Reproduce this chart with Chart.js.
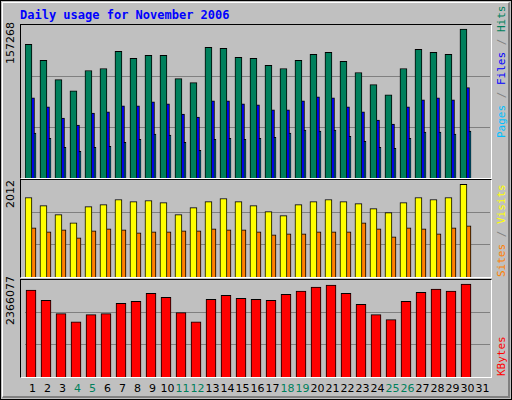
<!DOCTYPE html><html><head><meta charset="utf-8">
<script src="https://cdn.jsdelivr.net/npm/chart.js"></script>
<style>
body{margin:0;width:512px;height:400px;overflow:hidden;background:#fff}
#outer{position:absolute;left:0;top:0;width:510px;height:398px;background:#C0C0C0;border:1px solid #000}
#inner{position:absolute;left:1px;top:1px;width:505px;height:393px;border-top:1px solid #fff;border-left:1px solid #fff;border-right:2px solid #808080;border-bottom:2px solid #808080}
.panel{position:absolute;left:20px;width:470px;border-top:1px solid #000;border-left:1px solid #000;border-right:1px solid #fff;border-bottom:1px solid #fff}
canvas{position:absolute}
.t{position:absolute;font-family:"DejaVu Sans Mono",monospace;font-size:12px;white-space:nowrap}
.rot{transform-origin:0 0;transform:rotate(-90deg)}
.d{position:absolute;top:382px;width:16px;text-align:center;font-family:"DejaVu Sans",sans-serif;font-size:11px}
</style></head><body>
<div id="outer"><div id="inner"></div></div>
<div class="t" style="left:20px;top:8px;color:#0000FF;font-weight:bold">Daily usage for November 2006</div>
<div class="panel" style="top:24px;height:153px"><canvas id="c1" width="465" height="153" style="left:4px;top:0"></canvas></div>
<div class="panel" style="top:179px;height:97px"><canvas id="c2" width="465" height="97" style="left:4px;top:0"></canvas></div>
<div class="panel" style="top:279px;height:97px"><canvas id="c3" width="465" height="97" style="left:4px;top:0"></canvas></div>
<div class="t rot" style="left:4px;top:64px;font-family:'DejaVu Sans';font-size:11px">157268</div>
<div class="t rot" style="left:4px;top:208px;font-family:'DejaVu Sans';font-size:11px">2012</div>
<div class="t rot" style="left:4px;top:325px;font-family:'DejaVu Sans';font-size:11px">2366077</div>
<div class="t rot" style="left:495px;top:138px;font-size:11px"><span style="color:#00C0FF">Pages</span><span style="color:#808080"> / </span><span style="color:#0000FF">Files</span><span style="color:#808080"> / </span><span style="color:#00805C">Hits</span></div>
<div class="t rot" style="left:495px;top:277px;font-size:11px"><span style="color:#FF8000">Sites</span><span style="color:#808080"> / </span><span style="color:#FFFF00">Visits</span></div>
<div class="t rot" style="left:495px;top:376px;font-size:11px;color:#FF0000">KBytes</div>
<div id="days"></div>
<script>
const days=[];for(let i=1;i<=31;i++)days.push(String(i));
const weekend=[4,5,11,12,18,19,25,26];
const hits=[141253,124174,103894,92152,113500,115635,133781,126309,129511,129511,104961,100692,138050,136983,127376,126309,118837,115635,124174,130578,132713,123107,111365,98557,87883,115635,135915,132713,130578,157268];
const files=[84680,75074,63332,55861,68669,69737,76140,76140,80411,78276,67602,64400,81478,81478,78276,77209,71872,71872,81478,85748,84680,75074,69737,61197,56928,75074,82546,84680,82546,95354];
const pages=[47321,41984,32378,28108,32378,33445,37715,40917,46254,45187,37715,29176,40917,41984,40917,41984,43052,47321,50524,49456,50524,44119,38782,32378,31310,41984,48389,48389,46254,49456];
const visits=[1727,1551,1354,1178,1529,1573,1683,1639,1661,1617,1354,1507,1639,1705,1639,1551,1419,1332,1573,1639,1683,1639,1595,1485,1397,1617,1727,1683,1727,2012];
const sites=[1068,980,1024,849,1002,1046,1024,958,980,980,1002,1002,1046,1024,1024,980,915,936,936,980,980,980,1178,1046,871,1068,1046,936,1068,1112];
const kbytes=[2210637,1951578,1614800,1407556,1588894,1614800,1873870,1925672,2132917,2029289,1640700,1407556,1977484,2081107,2003390,1977484,1951578,2107013,2184729,2288355,2340167,2132917,1847960,1588894,1459366,1925672,2158825,2236543,2184729,2366077];
const dd=document.getElementById('days');
days.forEach((d,i)=>{const e=document.createElement('div');e.className='d';e.textContent=d;e.style.left=(25+15*i-0.5)+'px';e.style.color=weekend.includes(+d)?'#00805C':'#000';dd.appendChild(e);});
function mk(id,sets,max){
 new Chart(document.getElementById(id),{type:'bar',data:{datasets:sets.map(s=>({data:s[0].map((v,i)=>({x:i+s[2],y:v})),backgroundColor:s[1],borderColor:'#000',borderWidth:1,borderSkipped:'bottom',barThickness:s[3],grouped:false}))},
 options:{responsive:false,animation:false,events:[],layout:{padding:0},plugins:{legend:{display:false},tooltip:{enabled:false}},
 scales:{x:{type:'linear',display:false,min:-0.5,max:30.5,offset:false},y:{min:0,max:max,afterBuildTicks:a=>{a.ticks=[{value:max/3},{value:2*max/3}];},ticks:{display:false},grid:{color:'#808080',drawTicks:false,lineWidth:1},border:{display:false}}}}});
}
mk('c1',[[hits,'#00805C',-0.27,7],[files,'#0000FF',-0.1,7],[pages,'#00C0FF',0,7]],161538);
mk('c2',[[visits,'#FFFF00',-0.27,7],[sites,'#FF8000',0,7]],2107);
mk('c3',[[kbytes,'#FF0000',-0.1,10]],2469700);
</script></body></html>
